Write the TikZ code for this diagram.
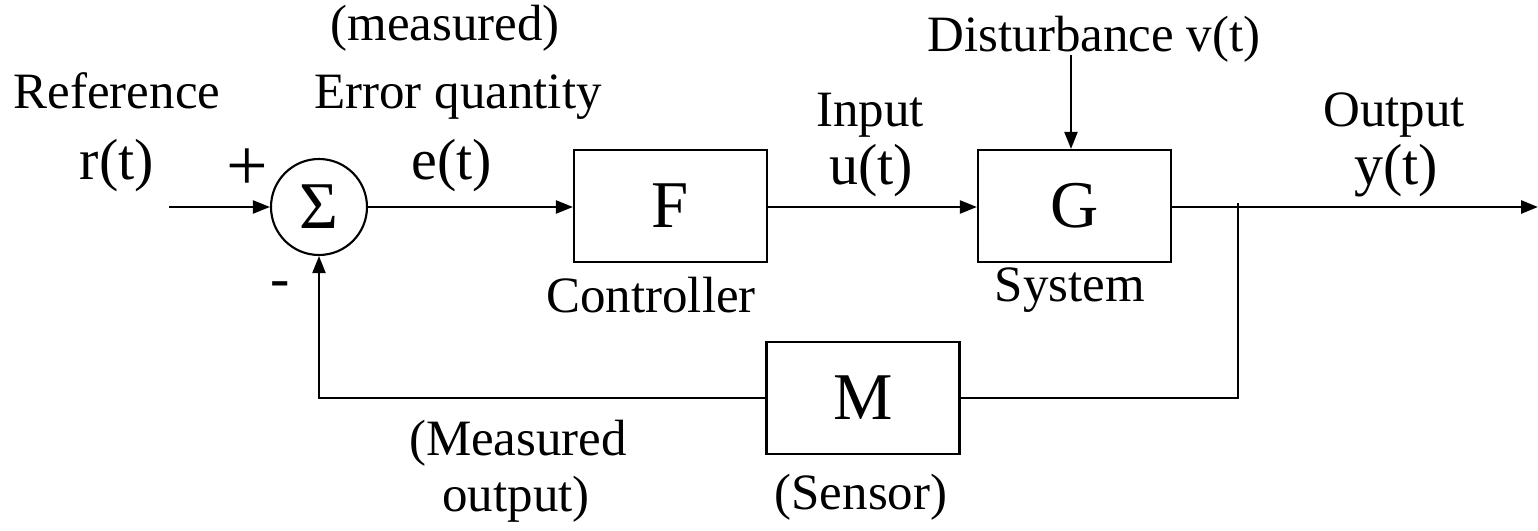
\documentclass[tikz,border=0pt]{standalone}
\usepackage{fontspec}
\setmainfont{Liberation Serif}
\usepackage{tikz}
\usetikzlibrary{arrows.meta,positioning}

\begin{document}
\begin{tikzpicture}[>={Triangle[length=1.7mm,width=1.3mm]},line join=miter,
  blk/.style={draw,line width=0.6pt,minimum width=1.93cm,minimum height=1.12cm,inner sep=0pt,font=\fontsize{19}{19}\selectfont},
  sumnode/.style={draw,circle,line width=0.6pt,minimum size=0.96cm,inner sep=0pt,font=\fontsize{19}{19}\selectfont},
  lbl/.style={anchor=base,inner sep=0pt,font=\fontsize{14.5}{14.5}\selectfont},
  sig/.style={anchor=base,inner sep=0pt,font=\fontsize{16.5}{16.5}\selectfont},
  arr/.style={->,line width=0.6pt}]
\useasboundingbox (0,0) rectangle (15.38,5.31);
\fill[white] (0,0) rectangle (15.38,5.31);
% blocks
\node[sumnode] (sum) at (3.19,3.24) {Σ};
\node[blk] (F) at (6.705,3.25) {F};
\node[blk] (G) at (10.745,3.25) {G};
\node[blk] (M) at (8.63,1.33) {M};
\coordinate (rin) at (1.69,3.24);
\coordinate (yout) at (15.38,3.24);
\coordinate (jn) at (12.38,3.28);
\coordinate (vin) at (10.71,4.76);
% signals
\draw[arr] (rin) -- (sum.west);
\draw[arr] (sum.east) -- (F.west |- sum.east);
\draw[arr] (F.east |- sum.east) -- (G.west |- sum.east);
\draw[arr,line width=0.8pt] (G.east |- sum.east) -- (yout);
\draw[arr] (vin) -- (G.north -| vin);
\draw[line width=0.6pt] (jn) |- (M.east);
\draw[arr] (M.west) -| (sum.south);
% labels
\node[sig,font=\fontsize{21}{21}\selectfont] (plus) at (2.47,3.40) {+};
\node[sig] (minus) at (2.80,2.33) {-};
\node[lbl] (meas) at (4.45,4.90) {(measured)};
\node[lbl] (ref) at (1.17,4.22) {Reference};
\node[lbl] (err) at (4.58,4.22) {Error quantity};
\node[lbl] (dist) at (10.94,4.79) {Disturbance v(t)};
\node[lbl] (inp) at (8.70,4.04) {Input};
\node[lbl] (outp) at (13.94,4.04) {Output};
\node[sig] (r) at (1.17,3.51) {r(t)};
\node[sig] (e) at (4.52,3.51) {e(t)};
\node[sig] (u) at (8.71,3.46) {u(t)};
\node[sig] (y) at (13.96,3.46) {y(t)};
\node[lbl] (ctrl) at (6.51,2.18) {Controller};
\node[lbl] (sys) at (10.70,2.29) {System};
\node[lbl] (mo1) at (5.18,0.76) {(Measured};
\node[lbl] (mo2) at (5.16,0.19) {output)};
\node[lbl] (sens) at (8.61,0.22) {(Sensor)};
\end{tikzpicture}
\end{document}
